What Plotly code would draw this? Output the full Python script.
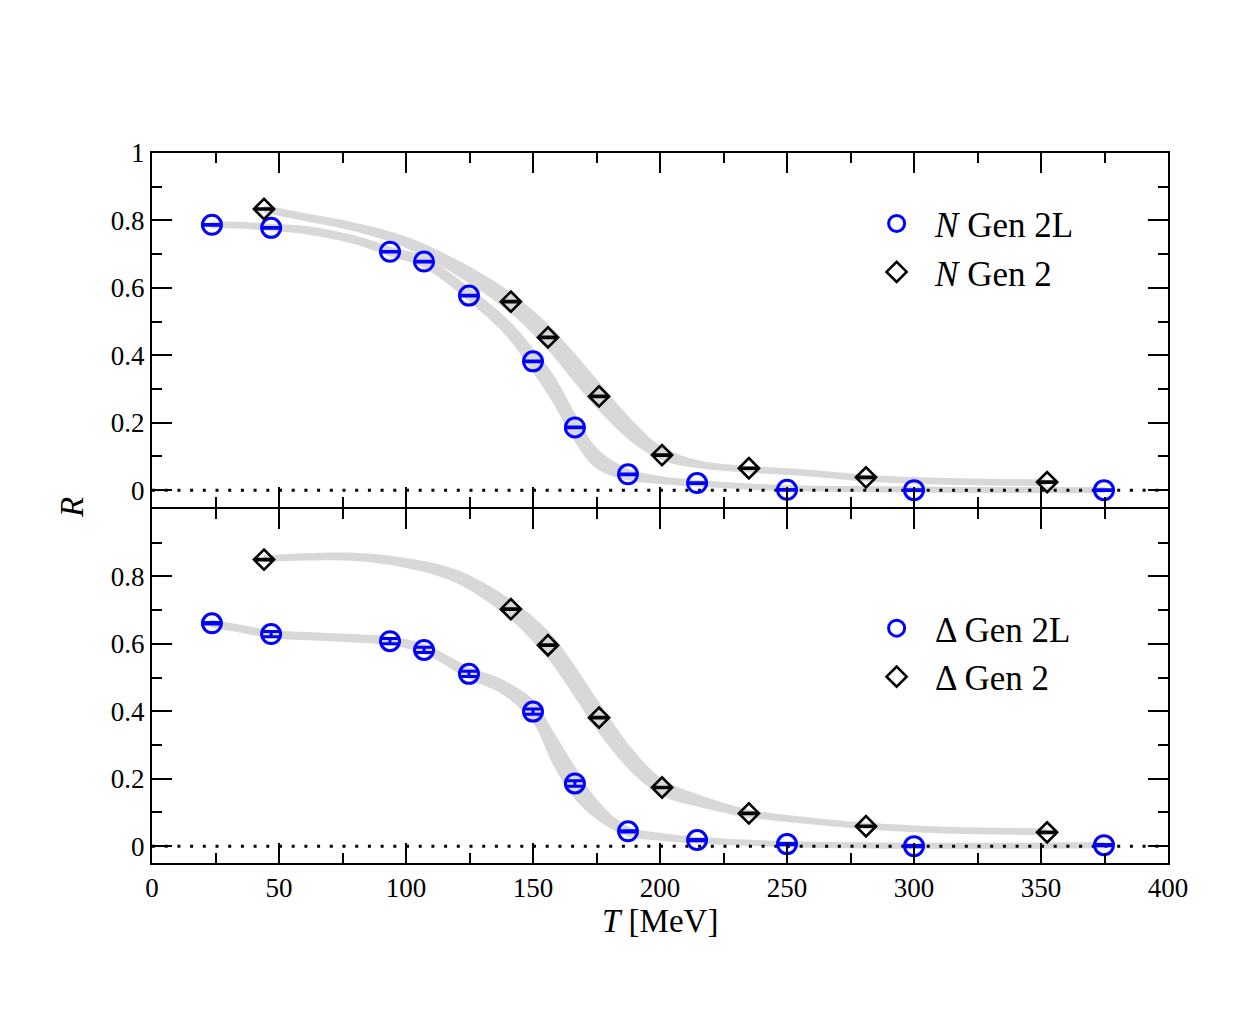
import plotly.graph_objects as go

# ---------------- data ----------------
# Top panel (nucleon)
N2L_T = [23.6, 46.9, 93.7, 107.1, 124.8, 150.0, 166.5, 187.4, 214.6, 250.0, 300.0, 374.8]
N2L_R = [0.787, 0.778, 0.707, 0.678, 0.577, 0.382, 0.186, 0.047, 0.021, 0.001, 0.0, 0.0]
N2L_E = [0.001] * 12

N2_T = [44.1, 141.3, 155.9, 176.0, 200.8, 235.0, 281.1, 352.4]
N2_R = [0.834, 0.559, 0.453, 0.278, 0.104, 0.065, 0.038, 0.024]
N2_E = [0.001] * 8

# Bottom panel (Delta)
D2L_T = [23.6, 46.9, 93.7, 107.1, 124.8, 150.0, 166.5, 187.4, 214.6, 250.0, 300.0, 374.8]
D2L_R = [0.661, 0.629, 0.608, 0.582, 0.511, 0.399, 0.186, 0.044, 0.018, 0.006, 0.0, 0.003]
D2L_E = [0.002, 0.008, 0.008, 0.008, 0.008, 0.008, 0.008, 0.002, 0.002, 0.002, 0.002, 0.002]

D2_T = [44.1, 141.3, 155.9, 176.0, 200.8, 235.0, 281.1, 352.4]
D2_R = [0.850, 0.703, 0.596, 0.381, 0.174, 0.097, 0.059, 0.041]
D2_E = [0.001] * 8

# Legend labels
top_labels = ["<i>N</i> Gen 2L", "<i>N</i> Gen 2"]
bot_labels = ["Δ Gen 2L", "Δ Gen 2"]

# Fit bands: centre and half-width at node temperatures
bandN2L_T = [23, 35, 47, 60, 80, 94, 107, 125, 140, 150, 158, 166.5, 175, 187, 200, 215, 250, 300, 375]
bandN2L_C = [0.787, 0.786, 0.779, 0.772, 0.742, 0.707, 0.677, 0.58, 0.48, 0.385, 0.30, 0.186, 0.095, 0.047, 0.03, 0.02, 0.006, 0.002, 0.0]
bandN2L_H = [0.010, 0.010, 0.011, 0.012, 0.013, 0.015, 0.017, 0.021, 0.027, 0.036, 0.043, 0.043, 0.031, 0.018, 0.012, 0.010, 0.009, 0.009, 0.009]

bandN2_T = [44, 60, 80, 100, 120, 141, 156, 165, 176, 190, 201, 215, 235, 260, 281, 310, 352]
bandN2_C = [0.834, 0.81, 0.78, 0.735, 0.66, 0.557, 0.453, 0.375, 0.278, 0.168, 0.108, 0.077, 0.062, 0.05, 0.036, 0.027, 0.022]
bandN2_H = [0.011, 0.012, 0.013, 0.017, 0.023, 0.031, 0.039, 0.043, 0.043, 0.032, 0.020, 0.012, 0.010, 0.010, 0.010, 0.010, 0.010]

bandD2L_T = [23, 35, 47, 70, 94, 107, 125, 138, 150, 158, 166.5, 175, 187, 200, 215, 250, 300, 375]
bandD2L_C = [0.661, 0.645, 0.629, 0.62, 0.608, 0.585, 0.513, 0.472, 0.40, 0.29, 0.188, 0.11, 0.045, 0.028, 0.018, 0.006, 0.001, 0.003]
bandD2L_H = [0.012, 0.012, 0.012, 0.012, 0.013, 0.015, 0.018, 0.022, 0.035, 0.050, 0.048, 0.030, 0.015, 0.012, 0.010, 0.009, 0.009, 0.009]

bandD2_T = [44, 60, 80, 100, 120, 141, 156, 165, 176, 190, 201, 215, 235, 260, 281, 310, 352]
bandD2_C = [0.852, 0.858, 0.858, 0.84, 0.80, 0.703, 0.596, 0.505, 0.381, 0.245, 0.174, 0.135, 0.097, 0.074, 0.06, 0.048, 0.043]
bandD2_H = [0.010, 0.011, 0.012, 0.015, 0.020, 0.030, 0.042, 0.046, 0.046, 0.035, 0.025, 0.018, 0.012, 0.010, 0.010, 0.010, 0.010]

ref_T = [0, 400]
ref_R = [0, 0]

x_ticks = [0, 50, 100, 150, 200, 250, 300, 350, 400]
x_minor = [25, 75, 125, 175, 225, 275, 325, 375]
y_top_ticks = [0, 0.2, 0.4, 0.6, 0.8, 1.0]
y_top_labels = ["0", "0.2", "0.4", "0.6", "0.8", "1"]
y_bot_ticks = [0, 0.2, 0.4, 0.6, 0.8]
y_bot_labels = ["0", "0.2", "0.4", "0.6", "0.8"]
y_minor = [0.1, 0.3, 0.5, 0.7, 0.9]

FONT = "Liberation Serif"
BLUE = "#0000ff"
GREY = "#d8d8d8"
PLOT_H = 710  # plot area height in px

fig = go.Figure()


def add_band(T, C, H, xa, ya):
    lo = [c - h for c, h in zip(C, H)]
    hi = [c + h for c, h in zip(C, H)]
    fig.add_trace(go.Scatter(x=T, y=lo, mode="lines", line=dict(width=0, shape="spline", color=GREY),
                             xaxis=xa, yaxis=ya, showlegend=False, hoverinfo="skip"))
    fig.add_trace(go.Scatter(x=T, y=hi, mode="lines", line=dict(width=0, shape="spline", color=GREY),
                             fill="tonexty", fillcolor=GREY,
                             xaxis=xa, yaxis=ya, showlegend=False, hoverinfo="skip"))


add_band(bandN2L_T, bandN2L_C, bandN2L_H, "x2", "y2")
add_band(bandN2_T, bandN2_C, bandN2_H, "x2", "y2")
add_band(bandD2L_T, bandD2L_C, bandD2L_H, "x", "y")
add_band(bandD2_T, bandD2_C, bandD2_H, "x", "y")

for xa, ya in (("x2", "y2"), ("x", "y")):
    fig.add_trace(go.Scatter(x=ref_T, y=ref_R, mode="lines",
                             line=dict(color="black", width=3, dash="3px,9.7px"),
                             xaxis=xa, yaxis=ya, showlegend=False, hoverinfo="skip"))


def add_points(T, R, E, label, symbol, color, size, lw, xa, ya, legend):
    fig.add_trace(go.Scatter(
        x=T, y=R, mode="markers", name=label,
        marker=dict(symbol=symbol, size=size, color=color, line=dict(color=color, width=lw)),
        error_y=dict(type="data", array=E, visible=True, color=color, thickness=3, width=9),
        xaxis=xa, yaxis=ya, legend=legend))


add_points(N2L_T, N2L_R, N2L_E, top_labels[0], "circle-open", BLUE, 19, 3, "x2", "y2", "legend")
add_points(N2_T, N2_R, N2_E, top_labels[1], "diamond-open", "black", 15.5, 2.6, "x2", "y2", "legend")
add_points(D2L_T, D2L_R, D2L_E, bot_labels[0], "circle-open", BLUE, 19, 3, "x", "y", "legend2")
add_points(D2_T, D2_R, D2_E, bot_labels[1], "diamond-open", "black", 15.5, 2.6, "x", "y", "legend2")

axis_common = dict(showline=True, linewidth=2, linecolor="black", mirror="allticks",
                   ticks="inside", tickwidth=2, tickcolor="black", showgrid=False, zeroline=False,
                   tickfont=dict(family=FONT, size=27, color="black"))

legend_common = dict(xanchor="left", yanchor="top", bgcolor="rgba(0,0,0,0)", traceorder="normal",
                     font=dict(family=FONT, size=35, color="black"), itemwidth=67,
                     tracegroupgap=0)

gap = 1.0 / PLOT_H
fig.update_layout(
    width=1250, height=1017,
    margin=dict(l=152, r=82, t=153, b=154),
    paper_bgcolor="white", plot_bgcolor="white",
    font=dict(family=FONT, color="black"),
    xaxis=dict(domain=[0, 1], range=[0, 400], tickmode="array", tickvals=x_ticks, ticklen=20,
               minor=dict(tickmode="array", tickvals=x_minor, ticklen=10, tickwidth=2,
                          ticks="inside", tickcolor="black"),
               anchor="y", **axis_common),
    xaxis2=dict(domain=[0, 1], range=[0, 400], tickmode="array", tickvals=x_ticks, ticklen=20,
                minor=dict(tickmode="array", tickvals=x_minor, ticklen=10, tickwidth=2,
                           ticks="inside", tickcolor="black"),
                anchor="y2", matches="x", showticklabels=False, **axis_common),
    yaxis=dict(domain=[0, 0.5 - gap], range=[-0.05, 1.0], tickmode="array", tickvals=y_bot_ticks,
               ticktext=y_bot_labels, ticklen=20,
               minor=dict(tickmode="array", tickvals=y_minor, ticklen=10, tickwidth=2,
                          ticks="inside", tickcolor="black"),
               anchor="x", **axis_common),
    yaxis2=dict(domain=[0.5 + gap, 1], range=[-0.05, 1.0], tickmode="array", tickvals=y_top_ticks,
                ticktext=y_top_labels, ticklen=20,
                minor=dict(tickmode="array", tickvals=y_minor, ticklen=10, tickwidth=2,
                           ticks="inside", tickcolor="black"),
                anchor="x2", **axis_common),
    legend=dict(x=0.695, y=0.942, **legend_common),
    legend2=dict(x=0.695, y=0.372, **legend_common),
    annotations=[
        dict(text="<i>R</i>", xref="paper", yref="paper", x=0, y=0.5, xshift=-80,
             xanchor="center", yanchor="middle", textangle=-90, showarrow=False,
             font=dict(family=FONT, size=33, color="black")),
        dict(text="<i>T</i> [MeV]", xref="paper", yref="paper", x=0.5, y=0, yshift=-58,
             xanchor="center", yanchor="middle", showarrow=False,
             font=dict(family=FONT, size=33, color="black")),
    ],
)

fig.write_html("out.html")
